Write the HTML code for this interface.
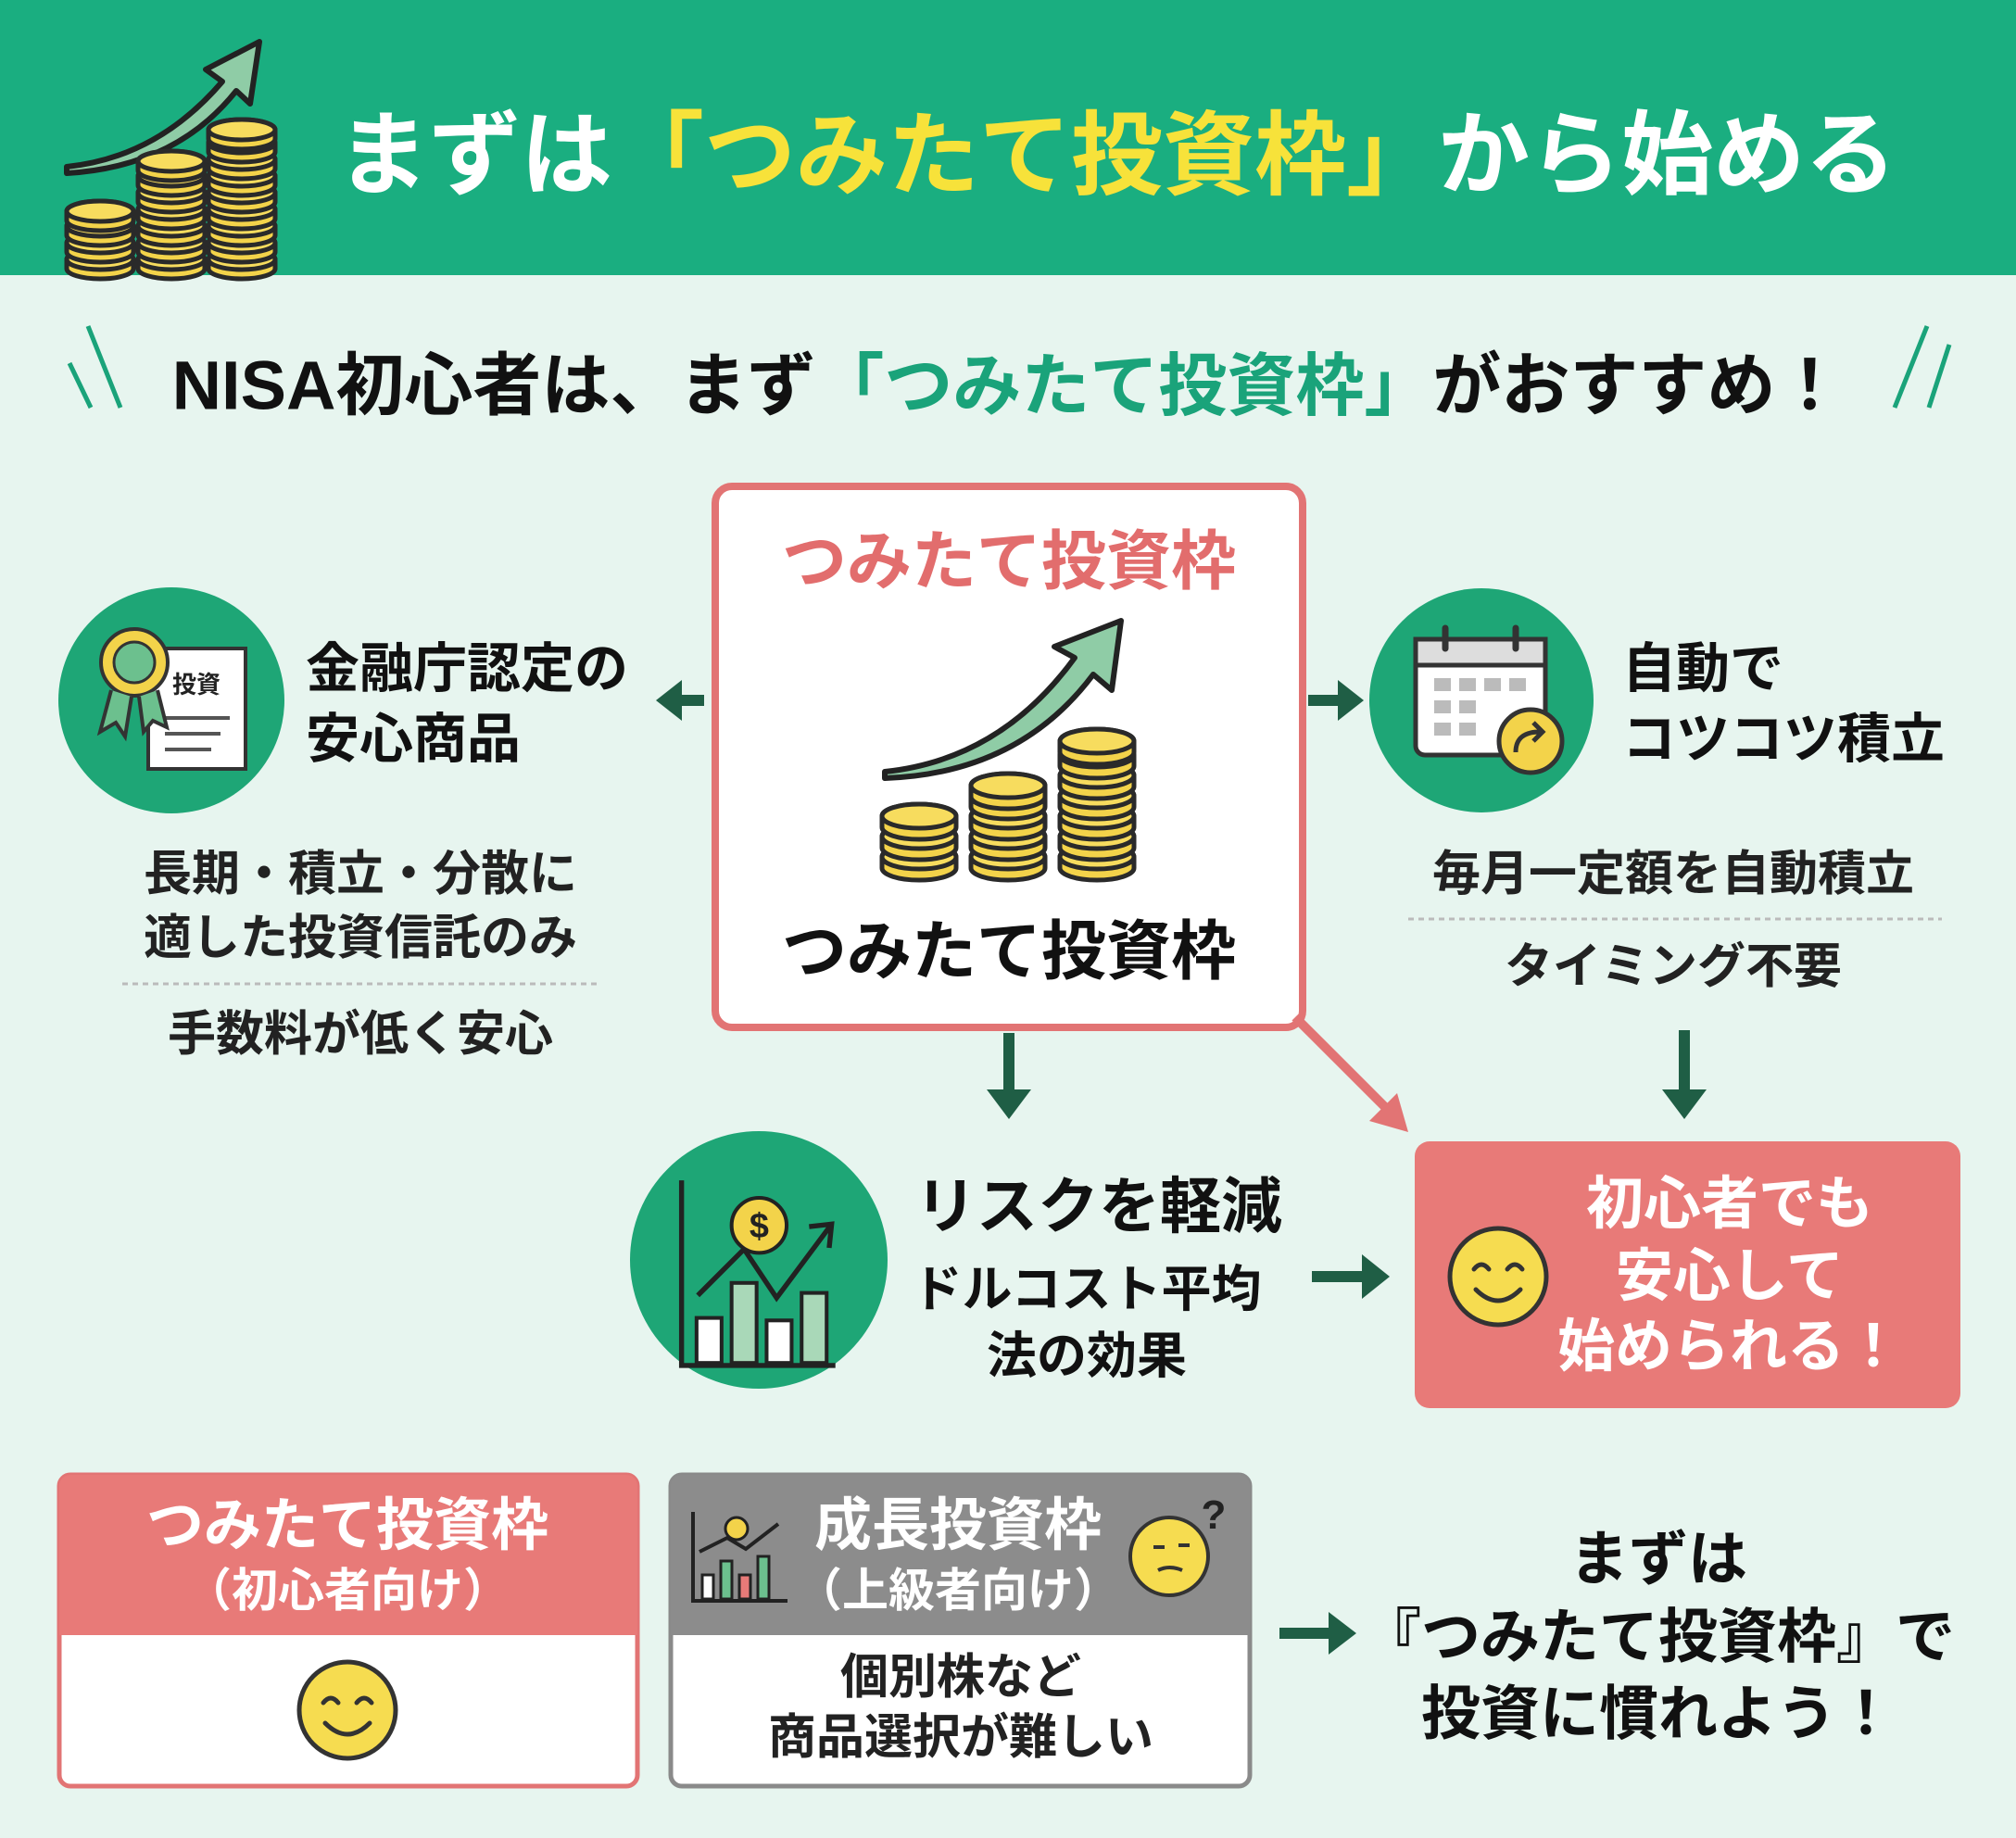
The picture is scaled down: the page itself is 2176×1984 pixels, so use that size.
<!DOCTYPE html>
<html><head><meta charset="utf-8"><style>
html,body{margin:0;padding:0;background:#e7f5ef;}
svg{display:block}
text{font-family:"Liberation Sans","Noto Sans CJK JP",sans-serif;font-weight:700;}
</style></head><body>
<svg width="2176" height="1984" viewBox="0 0 2176 1984" xmlns="http://www.w3.org/2000/svg">
<defs>
<g id="coin"><path d="M-40,0 L-40,12 A40,13 0 0 0 40,12 L40,0 A40,13 0 0 0 -40,0 Z" fill="#f3d34a" stroke="#2a2a2a" stroke-width="5"/><ellipse cx="0" cy="0" rx="40" ry="13" fill="#f7dc5e" stroke="#2a2a2a" stroke-width="5"/></g>
<g id="scoin"><path d="M-36,0 L-36,10 A36,11 0 0 0 36,10 L36,0 A36,11 0 0 0 -36,0 Z" fill="#f3d34a" stroke="#2a2a2a" stroke-width="5"/><ellipse cx="0" cy="0" rx="36" ry="11" fill="#f7dc5e" stroke="#2a2a2a" stroke-width="5"/></g>
<g id="smile"><circle r="52" fill="#f6dc50" stroke="#333" stroke-width="5"/><path d="M-26,-8 q8,-10 16,0 M10,-8 q8,-10 16,0" fill="none" stroke="#333" stroke-width="5" stroke-linecap="round"/><path d="M-24,14 q24,24 48,0" fill="none" stroke="#333" stroke-width="5" stroke-linecap="round"/></g>
</defs>
<rect width="2176" height="1984" fill="#e7f5ef"/>
<!-- header -->
<rect width="2176" height="297" fill="#1aae80"/>
<path d="M72,180 Q170,170 240,88 L222,75 L280,45 L270,112 L255,98 Q190,180 72,187 Z" fill="#8fcca6" stroke="#222" stroke-width="6" stroke-linejoin="round"/>
<g>
<use href="#scoin" x="108" y="280"/><use href="#scoin" x="108" y="262"/><use href="#scoin" x="108" y="244"/><use href="#scoin" x="108" y="228"/>
<use href="#scoin" x="185" y="280"/><use href="#scoin" x="185" y="262"/><use href="#scoin" x="185" y="244"/><use href="#scoin" x="185" y="226"/><use href="#scoin" x="185" y="208"/><use href="#scoin" x="185" y="190"/><use href="#scoin" x="185" y="174"/>
<use href="#scoin" x="261" y="280"/><use href="#scoin" x="261" y="262"/><use href="#scoin" x="261" y="244"/><use href="#scoin" x="261" y="226"/><use href="#scoin" x="261" y="208"/><use href="#scoin" x="261" y="190"/><use href="#scoin" x="261" y="172"/><use href="#scoin" x="261" y="154"/><use href="#scoin" x="261" y="140"/>
</g>
<text x="364" y="167" font-size="99" fill="#fff" dominant-baseline="central">まずは<tspan fill="#f7e23a">「つみたて投資枠」</tspan>から始める</text>
<!-- subtitle -->
<path d="M95,352 L130,440 M75,392 L98,440 M2080,352 L2045,440 M2104,372 L2082,440" stroke="#1aa37a" stroke-width="5"/>
<text x="1088" y="416" font-size="74" fill="#111" text-anchor="middle" dominant-baseline="central">NISA初心者は、まず<tspan fill="#1aa37a">「つみたて投資枠」</tspan>がおすすめ！</text>
<!-- center box -->
<rect x="772" y="525" width="634" height="584" rx="18" fill="#fff" stroke="#e27474" stroke-width="8"/>
<text x="1089" y="606" font-size="70" fill="#e26d6d" text-anchor="middle" dominant-baseline="central">つみたて投資枠</text>
<path d="M955,833 Q1080,820 1160,710 L1138,698 L1210,670 L1200,745 L1180,728 Q1100,835 955,840 Z" fill="#8fcca6" stroke="#222" stroke-width="6" stroke-linejoin="round"/>
<g>
<use href="#coin" x="992" y="925"/><use href="#coin" x="992" y="903"/><use href="#coin" x="992" y="881"/>
<use href="#coin" x="1088" y="925"/><use href="#coin" x="1088" y="903"/><use href="#coin" x="1088" y="881"/><use href="#coin" x="1088" y="859"/><use href="#coin" x="1088" y="848"/>
<use href="#coin" x="1184" y="925"/><use href="#coin" x="1184" y="903"/><use href="#coin" x="1184" y="881"/><use href="#coin" x="1184" y="859"/><use href="#coin" x="1184" y="837"/><use href="#coin" x="1184" y="815"/><use href="#coin" x="1184" y="800"/>
</g>
<text x="1089" y="1027" font-size="70" fill="#111" text-anchor="middle" dominant-baseline="central">つみたて投資枠</text>
<!-- left -->
<circle cx="185" cy="756" r="122" fill="#1ea676"/>
<rect x="160" y="700" width="105" height="130" fill="#fff" stroke="#333" stroke-width="4"/>
<text x="212" y="748" font-size="26" fill="#222" text-anchor="middle">投資</text>
<path d="M178,775 h70 M178,792 h60 M178,809 h50" stroke="#555" stroke-width="4"/>
<circle cx="145" cy="715" r="36" fill="#f3d34a" stroke="#333" stroke-width="4"/>
<circle cx="145" cy="715" r="22" fill="#6cc08e" stroke="#333" stroke-width="3"/>
<path d="M120,745 L108,790 L125,780 L135,795 L142,752 M170,745 L180,785 L165,778 L155,790 L150,752" fill="#6cc08e" stroke="#333" stroke-width="4"/>
<text x="330" y="722" font-size="58" fill="#111" dominant-baseline="central">金融庁認定の</text>
<text x="330" y="798" font-size="58" fill="#111" dominant-baseline="central">安心商品</text>
<path d="M760,756 L728,756" stroke="#1f5e45" stroke-width="12"/><polygon points="708,756 736,734 736,778" fill="#1f5e45"/>
<text x="389" y="944" font-size="52" fill="#222" text-anchor="middle" dominant-baseline="central">長期・積立・分散に</text>
<text x="389" y="1013" font-size="52" fill="#222" text-anchor="middle" dominant-baseline="central">適した投資信託のみ</text>
<path d="M132,1062 H645" stroke="#bbb" stroke-width="3" stroke-dasharray="6,5"/>
<text x="389" y="1117" font-size="52" fill="#222" text-anchor="middle" dominant-baseline="central">手数料が低く安心</text>
<!-- right -->
<path d="M1412,756 L1448,756" stroke="#1f5e45" stroke-width="12"/><polygon points="1472,756 1444,734 1444,778" fill="#1f5e45"/>
<circle cx="1599" cy="756" r="121" fill="#1ea676"/>
<rect x="1528" y="690" width="140" height="125" rx="10" fill="#fff" stroke="#333" stroke-width="5"/>
<rect x="1528" y="690" width="140" height="28" fill="#ddd" stroke="#333" stroke-width="5"/>
<path d="M1560,678 v22 M1636,678 v22" stroke="#333" stroke-width="7" stroke-linecap="round"/>
<g fill="#bbb"><rect x="1548" y="732" width="18" height="14"/><rect x="1575" y="732" width="18" height="14"/><rect x="1602" y="732" width="18" height="14"/><rect x="1629" y="732" width="18" height="14"/><rect x="1548" y="756" width="18" height="14"/><rect x="1575" y="756" width="18" height="14"/><rect x="1548" y="780" width="18" height="14"/><rect x="1575" y="780" width="18" height="14"/></g>
<circle cx="1652" cy="800" r="34" fill="#f3d34a" stroke="#333" stroke-width="5"/>
<path d="M1636,812 q0,-22 26,-22 M1655,780 l10,10 l-10,10" fill="none" stroke="#333" stroke-width="5"/>
<text x="1751" y="722" font-size="58" fill="#111" dominant-baseline="central">自動で</text>
<text x="1751" y="798" font-size="58" fill="#111" dominant-baseline="central">コツコツ積立</text>
<text x="1806" y="944" font-size="52" fill="#222" text-anchor="middle" dominant-baseline="central">毎月一定額を自動積立</text>
<path d="M1520,992 H2096" stroke="#bbb" stroke-width="3" stroke-dasharray="6,5"/>
<text x="1806" y="1044" font-size="52" fill="#222" text-anchor="middle" dominant-baseline="central">タイミング不要</text>
<!-- down arrows -->
<path d="M1089,1115 V1180" stroke="#1f5e45" stroke-width="12"/><polygon points="1089,1208 1065,1176 1113,1176" fill="#1f5e45"/>
<path d="M1818,1112 V1180" stroke="#1f5e45" stroke-width="12"/><polygon points="1818,1208 1794,1176 1842,1176" fill="#1f5e45"/>
<path d="M1398,1098 L1500,1200" stroke="#e27474" stroke-width="10"/><polygon points="1520,1222 1478,1210 1508,1180" fill="#e27474"/>
<!-- risk -->
<circle cx="819" cy="1360" r="139" fill="#1ea676"/>
<g transform="translate(818,1374) scale(1.35) translate(-781,-1372)">
<path d="M720,1298 V1446 H843" stroke="#222" stroke-width="4" fill="none"/>
<rect x="732" y="1408" width="20" height="36" fill="#fff" stroke="#222" stroke-width="3"/>
<rect x="760" y="1380" width="20" height="64" fill="#a9d8b8" stroke="#222" stroke-width="3"/>
<rect x="788" y="1410" width="20" height="34" fill="#fff" stroke="#222" stroke-width="3"/>
<rect x="816" y="1388" width="20" height="56" fill="#a9d8b8" stroke="#222" stroke-width="3"/>
<path d="M733,1390 L770,1353 L796,1392 L840,1333 M822,1335 L840,1333 L838,1352" fill="none" stroke="#222" stroke-width="4"/>
<circle cx="782" cy="1334" r="22" fill="#f3d34a" stroke="#222" stroke-width="3"/>
<text x="782" y="1344" font-size="28" fill="#222" text-anchor="middle">$</text>
</g>
<text x="988" y="1302" font-size="66" fill="#111" dominant-baseline="central">リスクを軽減</text>
<text x="1173" y="1392" font-size="54" fill="#111" text-anchor="middle" dominant-baseline="central">ドルコスト平均</text>
<text x="1173" y="1464" font-size="54" fill="#111" text-anchor="middle" dominant-baseline="central">法の効果</text>
<path d="M1416,1378 H1472" stroke="#1f5e45" stroke-width="12"/><polygon points="1500,1378 1470,1354 1470,1402" fill="#1f5e45"/>
<!-- pink result -->
<rect x="1527" y="1232" width="589" height="288" rx="16" fill="#e87a78"/>
<use href="#smile" x="1617" y="1378"/>
<text x="1867" y="1300" font-size="62" fill="#fff" text-anchor="middle" dominant-baseline="central">初心者でも</text>
<text x="1867" y="1378" font-size="62" fill="#fff" text-anchor="middle" dominant-baseline="central">安心して</text>
<text x="1867" y="1454" font-size="62" fill="#fff" text-anchor="middle" dominant-baseline="central">始められる！</text>
<!-- bottom cards -->
<rect x="64" y="1592" width="624" height="336" rx="12" fill="#fff" stroke="#e27474" stroke-width="5"/>
<path d="M64,1604 a12,12 0 0 1 12,-12 H676 a12,12 0 0 1 12,12 V1765 H64 Z" fill="#e87a78"/>
<text x="375" y="1647" font-size="62" fill="#fff" text-anchor="middle" dominant-baseline="central">つみたて投資枠</text>
<text x="375" y="1717" font-size="50" fill="#fff" text-anchor="middle" dominant-baseline="central">（初心者向け）</text>
<use href="#smile" x="375" y="1846"/>
<rect x="724" y="1592" width="625" height="336" rx="12" fill="#fff" stroke="#8a8a8a" stroke-width="5"/>
<path d="M724,1604 a12,12 0 0 1 12,-12 H1337 a12,12 0 0 1 12,12 V1765 H724 Z" fill="#8c8c8c"/>
<path d="M748,1632 V1728 H850" stroke="#222" stroke-width="4" fill="none"/>
<rect x="758" y="1700" width="12" height="26" fill="#fff" stroke="#222" stroke-width="3"/>
<rect x="778" y="1685" width="12" height="41" fill="#6cc08e" stroke="#222" stroke-width="3"/>
<rect x="798" y="1700" width="12" height="26" fill="#e87a78" stroke="#222" stroke-width="3"/>
<rect x="818" y="1680" width="12" height="46" fill="#6cc08e" stroke="#222" stroke-width="3"/>
<path d="M755,1675 L785,1660 L805,1672 L840,1645" fill="none" stroke="#222" stroke-width="4"/>
<circle cx="795" cy="1650" r="12" fill="#f3d34a" stroke="#222" stroke-width="3"/>
<text x="1034" y="1647" font-size="62" fill="#fff" text-anchor="middle" dominant-baseline="central">成長投資枠</text>
<text x="1034" y="1717" font-size="50" fill="#fff" text-anchor="middle" dominant-baseline="central">（上級者向け）</text>
<circle cx="1262" cy="1680" r="42" fill="#f6dc50" stroke="#333" stroke-width="4"/>
<text x="1310" y="1650" font-size="44" fill="#222" text-anchor="middle">?</text>
<path d="M1245,1670 h12 M1272,1668 h12 M1250,1695 q12,-6 26,0" stroke="#333" stroke-width="4" fill="none"/>
<text x="1037" y="1811" font-size="52" fill="#222" text-anchor="middle" dominant-baseline="central">個別株など</text>
<text x="1037" y="1876" font-size="52" fill="#222" text-anchor="middle" dominant-baseline="central">商品選択が難しい</text>
<path d="M1381,1763 H1436" stroke="#1f5e45" stroke-width="12"/><polygon points="1464,1763 1434,1740 1434,1786" fill="#1f5e45"/>
<text x="1790" y="1683" font-size="64" fill="#111" text-anchor="middle" dominant-baseline="central">まずは</text>
<text x="1790" y="1767" font-size="64" fill="#111" text-anchor="middle" dominant-baseline="central">『つみたて投資枠』で</text>
<text x="1790" y="1850" font-size="64" fill="#111" text-anchor="middle" dominant-baseline="central">投資に慣れよう！</text>
</svg>
</body></html>
